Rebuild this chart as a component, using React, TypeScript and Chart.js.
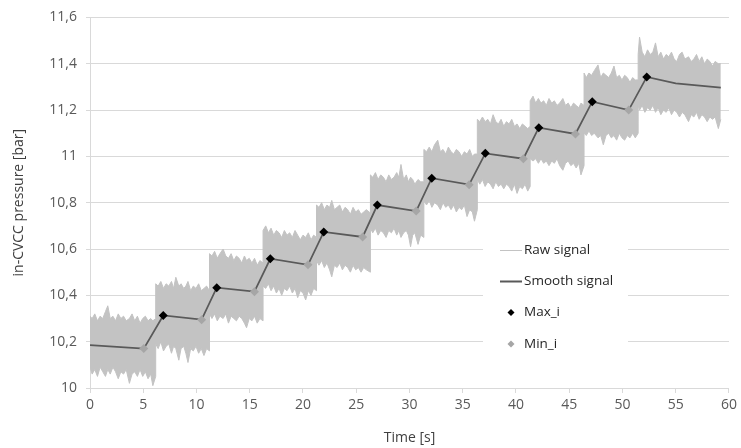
import React, { useEffect, useRef } from "react";
import { Chart, registerables } from "chart.js";

Chart.register(...registerables);

// ---- Data ----
const maxTime = [6.88, 11.9, 16.93, 21.95, 26.98, 32.09, 37.12, 42.14, 47.16, 52.28];
const maxValue = [10.313, 10.433, 10.558, 10.674, 10.79, 10.906, 11.013, 11.124, 11.236, 11.343];

const minTime = [5.05, 10.48, 15.44, 20.47, 25.6, 30.63, 35.6, 40.69, 45.58, 50.58];
const minValue = [10.17, 10.295, 10.416, 10.532, 10.652, 10.764, 10.878, 10.99, 11.097, 11.2];

const smoothTime = [0, 5.05, 6.88, 10.48, 11.9, 15.44, 16.93, 20.47, 21.95, 25.6, 26.98, 30.63, 32.09, 35.6, 37.12, 40.69, 42.14, 45.58, 47.16, 50.58, 52.28, 55, 59.23];
const smoothValue = [10.185, 10.17, 10.313, 10.295, 10.433, 10.416, 10.558, 10.532, 10.674, 10.652, 10.79, 10.764, 10.906, 10.878, 11.013, 10.99, 11.124, 11.097, 11.236, 11.2, 11.343, 11.315, 11.297];

// Raw signal envelope per step segment (upper / lower edge of the noisy band)
const rawSegTime = [
  [0, 0.2, 0.45, 0.7, 0.95, 1.2, 1.45, 1.67, 1.9, 2.15, 2.4, 2.65, 2.9, 3.15, 3.4, 3.7, 3.95, 4.2, 4.45, 4.7, 4.95, 5.2, 5.45, 5.7, 5.9, 6.17],
  [6.17, 6.4, 6.65, 6.9, 7.15, 7.4, 7.65, 7.85, 8.06, 8.34, 8.55, 8.8, 9.0, 9.2, 9.45, 9.7, 9.95, 10.2, 10.45, 10.7, 10.95, 11.22],
  [11.22, 11.45, 11.7, 11.95, 12.2, 12.5, 12.75, 13.0, 13.25, 13.5, 13.75, 14.0, 14.25, 14.5, 14.7, 14.95, 15.2, 15.45, 15.7, 15.95, 16.25],
  [16.25, 16.5, 16.75, 17.0, 17.25, 17.5, 17.75, 18.0, 18.25, 18.5, 18.75, 19.0, 19.25, 19.5, 19.75, 20.0, 20.25, 20.5, 20.75, 21.0, 21.27],
  [21.27, 21.5, 21.75, 22.0, 22.25, 22.5, 22.7, 22.95, 23.2, 23.45, 23.7, 23.95, 24.2, 24.45, 24.7, 24.95, 25.2, 25.45, 25.7, 25.95, 26.33],
  [26.33, 26.55, 26.8, 27.05, 27.3, 27.55, 27.8, 28.05, 28.3, 28.55, 28.8, 29.0, 29.2, 29.45, 29.7, 29.9, 30.1, 30.3, 30.5, 30.8, 31.05, 31.35],
  [31.35, 31.6, 31.85, 32.1, 32.35, 32.65, 32.9, 33.15, 33.4, 33.65, 33.9, 34.15, 34.4, 34.65, 34.9, 35.15, 35.4, 35.65, 35.9, 36.1, 36.37],
  [36.37, 36.6, 36.85, 37.1, 37.35, 37.6, 37.85, 38.1, 38.35, 38.6, 38.85, 39.1, 39.35, 39.6, 39.85, 40.1, 40.35, 40.6, 40.85, 41.1, 41.33],
  [41.33, 41.6, 41.85, 42.1, 42.35, 42.6, 42.85, 43.1, 43.35, 43.6, 43.85, 44.1, 44.4, 44.65, 44.9, 45.15, 45.4, 45.65, 45.9, 46.1, 46.39],
  [46.39, 46.6, 46.85, 47.1, 47.35, 47.7, 47.95, 48.2, 48.45, 48.7, 48.95, 49.2, 49.45, 49.7, 49.95, 50.2, 50.45, 50.7, 50.95, 51.2, 51.47],
  [51.47, 51.6, 51.85, 52.1, 52.35, 52.6, 52.85, 53.1, 53.35, 53.6, 53.85, 54.1, 54.35, 54.6, 54.85, 55.1, 55.35, 55.6, 55.85, 56.2, 56.45, 56.7, 56.95, 57.2, 57.45, 57.7, 57.95, 58.2, 58.45, 58.7, 59.0, 59.23],
];
const rawSegTop = [
  [10.31, 10.3, 10.32, 10.29, 10.31, 10.3, 10.33, 10.355, 10.3, 10.31, 10.29, 10.32, 10.3, 10.31, 10.29, 10.3, 10.32, 10.29, 10.31, 10.28, 10.3, 10.31, 10.29, 10.3, 10.29, 10.3],
  [10.45, 10.44, 10.46, 10.43, 10.45, 10.44, 10.46, 10.43, 10.478, 10.44, 10.45, 10.43, 10.44, 10.46, 10.42, 10.44, 10.43, 10.45, 10.42, 10.43, 10.44, 10.42],
  [10.58, 10.57, 10.59, 10.56, 10.58, 10.6, 10.57, 10.56, 10.58, 10.55, 10.57, 10.56, 10.54, 10.57, 10.55, 10.56, 10.54, 10.56, 10.53, 10.55, 10.54],
  [10.68, 10.7, 10.67, 10.69, 10.66, 10.68, 10.67, 10.65, 10.68, 10.66, 10.67, 10.65, 10.68, 10.66, 10.64, 10.66, 10.65, 10.67, 10.64, 10.66, 10.65],
  [10.79, 10.78, 10.8, 10.77, 10.79, 10.78, 10.81, 10.77, 10.78, 10.79, 10.76, 10.78, 10.77, 10.75, 10.78, 10.76, 10.77, 10.75, 10.76, 10.77, 10.755],
  [10.92, 10.91, 10.93, 10.9, 10.92, 10.91, 10.89, 10.92, 10.9, 10.91, 10.93, 10.91, 10.965, 10.9, 10.92, 10.89, 10.91, 10.9, 10.88, 10.9, 10.89, 10.89],
  [11.03, 11.02, 11.04, 11.02, 11.05, 11.07, 11.02, 11.03, 11.01, 11.04, 11.02, 11.01, 11.03, 11.02, 11.0, 11.02, 11.01, 11.03, 11.0, 11.01, 11.01],
  [11.16, 11.15, 11.17, 11.15, 11.16, 11.14, 11.18, 11.15, 11.14, 11.16, 11.13, 11.15, 11.14, 11.16, 11.13, 11.14, 11.12, 11.14, 11.13, 11.12, 11.13],
  [11.24, 11.26, 11.23, 11.25, 11.23, 11.24, 11.22, 11.25, 11.23, 11.24, 11.22, 11.23, 11.25, 11.22, 11.23, 11.21, 11.23, 11.22, 11.21, 11.23, 11.22],
  [11.36, 11.34, 11.36, 11.35, 11.37, 11.395, 11.34, 11.36, 11.35, 11.34, 11.36, 11.39, 11.34, 11.35, 11.33, 11.35, 11.34, 11.32, 11.34, 11.33, 11.33],
  [11.44, 11.515, 11.45, 11.43, 11.46, 11.44, 11.45, 11.49, 11.43, 11.45, 11.42, 11.44, 11.43, 11.45, 11.42, 11.41, 11.44, 11.45, 11.42, 11.43, 11.41, 11.42, 11.44, 11.41, 11.43, 11.4, 11.42, 11.41, 11.39, 11.41, 11.4, 11.4],
];
const rawSegBottom = [
  [10.09, 10.06, 10.08, 10.05, 10.09, 10.07, 10.05, 10.08, 10.06, 10.09, 10.07, 10.04, 10.07, 10.06, 10.08, 10.02, 10.06, 10.07, 10.05, 10.08, 10.05, 10.07, 10.04, 10.06, 10.01, 10.05],
  [10.19, 10.17, 10.2, 10.16, 10.18, 10.19, 10.15, 10.18, 10.17, 10.12, 10.17, 10.18, 10.15, 10.11, 10.17, 10.16, 10.18, 10.15, 10.17, 10.14, 10.17, 10.16],
  [10.32, 10.3, 10.32, 10.29, 10.31, 10.3, 10.32, 10.28, 10.31, 10.3, 10.29, 10.31, 10.3, 10.28, 10.26, 10.3, 10.29, 10.31, 10.28, 10.3, 10.29],
  [10.44, 10.43, 10.45, 10.42, 10.44, 10.41, 10.43, 10.4, 10.43, 10.42, 10.44, 10.41, 10.43, 10.39, 10.42, 10.41, 10.38, 10.42, 10.4, 10.43, 10.42],
  [10.55, 10.53, 10.55, 10.52, 10.54, 10.51, 10.48, 10.53, 10.52, 10.54, 10.51, 10.53, 10.52, 10.5, 10.53, 10.51, 10.52, 10.5, 10.52, 10.51, 10.5],
  [10.69, 10.67, 10.69, 10.66, 10.68, 10.67, 10.65, 10.68, 10.67, 10.69, 10.66, 10.68, 10.65, 10.67, 10.68, 10.66, 10.61, 10.66, 10.67, 10.62, 10.66, 10.65],
  [10.81, 10.79, 10.81, 10.78, 10.8, 10.79, 10.77, 10.8, 10.78, 10.79, 10.77, 10.79, 10.76, 10.78, 10.77, 10.79, 10.74, 10.77, 10.76, 10.72, 10.77],
  [10.9, 10.88, 10.9, 10.87, 10.89, 10.88, 10.86, 10.89, 10.87, 10.88, 10.86, 10.88, 10.87, 10.85, 10.88, 10.84, 10.87, 10.86, 10.88, 10.85, 10.87],
  [10.99, 10.98, 10.99, 10.97, 10.99, 10.97, 10.98, 10.96, 10.98, 10.97, 10.99, 10.96, 10.94, 10.97, 10.98, 10.96, 10.97, 10.95, 10.97, 10.92, 10.96],
  [11.1, 11.09, 11.11, 11.09, 11.1, 11.08, 11.09, 11.05, 11.09, 11.1, 11.08, 11.09, 11.07, 11.1, 11.08, 11.07, 11.09, 11.08, 11.1, 11.08, 11.1],
  [11.22, 11.2, 11.22, 11.19, 11.21, 11.2, 11.22, 11.19, 11.21, 11.18, 11.2, 11.19, 11.21, 11.18, 11.2, 11.19, 11.17, 11.19, 11.18, 11.15, 11.18, 11.17, 11.19, 11.16, 11.18, 11.17, 11.15, 11.17, 11.16, 11.17, 11.12, 11.16],
];

const legendLabels = ["Raw signal", "Smooth signal", "Max_i", "Min_i"];
const xTitle = "Time [s]";
const yTitle = "in-CVCC pressure [bar]";

const RAW_COLOR = "#c3c3c3";
const SMOOTH_COLOR = "#595959";
const MAX_COLOR = "#000000";
const MIN_COLOR = "#a6a6a6";
const GRID = "#d9d9d9";
const FONT = "'Open Sans', 'Noto Sans', sans-serif";

const pts = (xs: number[], ys: number[]) => xs.map((x, i) => ({ x, y: ys[i] }));
const segPts = (ts: number[][], vs: number[][]) =>
  ts.flatMap((seg, s) => seg.map((x, i) => ({ x, y: vs[s][i] })));

const insideLegend = {
  id: "insideLegend",
  afterDatasetsDraw(chart: any) {
    const ctx = chart.ctx as CanvasRenderingContext2D;
    ctx.save();
    ctx.fillStyle = "#ffffff";
    ctx.fillRect(483, 232, 145, 126);
    const rows = [250.5, 281.5, 312.5, 344];
    const x0 = 500, x1 = 522, tx = 524;
    ctx.font = `13.5px ${FONT}`;
    ctx.textBaseline = "middle";
    ctx.textAlign = "left";
    rows.forEach((y, i) => {
      if (i === 0 || i === 1) {
        ctx.strokeStyle = i === 0 ? RAW_COLOR : SMOOTH_COLOR;
        ctx.lineWidth = i === 0 ? 1 : 2;
        ctx.beginPath();
        ctx.moveTo(x0, y);
        ctx.lineTo(x1, y);
        ctx.stroke();
      } else {
        const r = 3.5;
        const cx = 511;
        ctx.fillStyle = i === 2 ? MAX_COLOR : MIN_COLOR;
        ctx.beginPath();
        ctx.moveTo(cx - r, y);
        ctx.lineTo(cx, y - r);
        ctx.lineTo(cx + r, y);
        ctx.lineTo(cx, y + r);
        ctx.closePath();
        ctx.fill();
      }
      ctx.fillStyle = "#262626";
      ctx.fillText(legendLabels[i], tx, y);
    });
    ctx.restore();
  },
};

export default function App() {
  const ref = useRef<HTMLCanvasElement | null>(null);

  useEffect(() => {
    document.body.style.margin = "0";
    const canvas = ref.current;
    if (!canvas) return;
    const chart = new Chart(canvas, {
      type: "line",
      data: {
        datasets: [
          {
            label: legendLabels[0],
            data: segPts(rawSegTime, rawSegTop),
            borderColor: RAW_COLOR,
            backgroundColor: RAW_COLOR,
            borderWidth: 1,
            pointRadius: 0,
            fill: "+1",
            order: 4,
          },
          {
            label: legendLabels[0] + " (lower)",
            data: segPts(rawSegTime, rawSegBottom),
            borderColor: RAW_COLOR,
            backgroundColor: RAW_COLOR,
            borderWidth: 1,
            pointRadius: 0,
            fill: false,
            order: 3,
          },
          {
            label: legendLabels[1],
            data: pts(smoothTime, smoothValue),
            borderColor: SMOOTH_COLOR,
            borderWidth: 1.75,
            pointRadius: 0,
            fill: false,
            order: 2,
          },
          {
            label: legendLabels[3],
            data: pts(minTime, minValue),
            showLine: false,
            pointStyle: "rectRot",
            pointRadius: 4.5,
            pointBackgroundColor: MIN_COLOR,
            pointBorderColor: MIN_COLOR,
            pointBorderWidth: 0,
            order: 1,
          },
          {
            label: legendLabels[2],
            data: pts(maxTime, maxValue),
            showLine: false,
            pointStyle: "rectRot",
            pointRadius: 4.5,
            pointBackgroundColor: MAX_COLOR,
            pointBorderColor: MAX_COLOR,
            pointBorderWidth: 0,
            order: 0,
          },
        ],
      },
      options: {
        animation: false,
        responsive: false,
        devicePixelRatio: 1,
        layout: { padding: { top: 15, right: 6, left: 0, bottom: 0 } },
        elements: { line: { tension: 0 } },
        plugins: {
          legend: { display: false },
          tooltip: { enabled: false },
        },
        scales: {
          x: {
            type: "linear",
            min: 0,
            max: 60,
            ticks: {
              stepSize: 5,
              color: "#595959",
              font: { family: FONT, size: 14 },
              padding: 4,
              maxRotation: 0,
            },
            grid: {
              drawOnChartArea: false,
              drawTicks: true,
              tickLength: 5,
              color: GRID,
            },
            border: { color: GRID },
            title: {
              display: true,
              text: xTitle,
              color: "#404040",
              font: { family: FONT, size: 14 },
              padding: { top: 0, bottom: 2 },
            },
            afterFit: (s: any) => {
              s.height = 60;
            },
          },
          y: {
            type: "linear",
            min: 10,
            max: 11.6,
            ticks: {
              stepSize: 0.2,
              color: "#595959",
              font: { family: FONT, size: 14 },
              padding: 9,
              callback: (v: any) => String(Number(Number(v).toFixed(1))).replace(".", ","),
            },
            grid: {
              color: GRID,
              drawTicks: true,
              tickLength: 4,
            },
            border: { color: GRID },
            title: {
              display: true,
              text: yTitle,
              color: "#404040",
              font: { family: FONT, size: 14 },
              padding: { top: 11, bottom: 0 },
            },
            afterFit: (s: any) => {
              s.width = 90;
            },
          },
        },
      },
      plugins: [insideLegend],
    });
    return () => chart.destroy();
  }, []);

  return (
    <div style={{ width: 741, height: 448, position: "relative", background: "#fff" }}>
      <canvas ref={ref} width={741} height={448} style={{ display: "block" }} />
    </div>
  );
}
